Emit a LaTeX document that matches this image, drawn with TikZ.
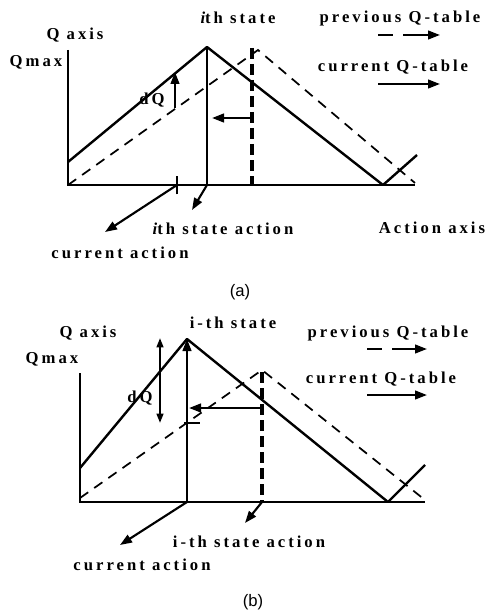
\documentclass[tikz,border=0pt]{standalone}
\usepackage{fontspec}
\setmainfont{Liberation Serif}
\newfontfamily\lblfont[LetterSpace=18]{Liberation Serif}
\newfontfamily\capfont{Liberation Sans}
\usetikzlibrary{arrows.meta,positioning}

\begin{document}
\begin{tikzpicture}[
x=0.75pt, y=-0.75pt,
lbl/.style={font=\lblfont\bfseries\fontsize{12.5}{14}\selectfont, inner sep=0pt},
captxt/.style={font=\capfont\fontsize{12.5}{14}\selectfont, inner sep=0pt},
axisline/.style={line width=2pt},
curq/.style={line width=1.8pt, line join=round},
prevq/.style={line width=1.3pt, dash pattern=on 7.5pt off 5.5pt},
actmark/.style={line width=3.5pt, dash pattern=on 8pt off 4pt},
arrow/.style={-{Triangle[length=9pt,width=6.5pt]}, line width=1.6pt},
dblarrow/.style={{Triangle[length=7pt,width=5pt]}-{Triangle[length=7pt,width=5pt]}, line width=1.6pt},
legdash/.style={arrow, dash pattern=on 11pt off 8pt on 40pt}
]
\useasboundingbox (0,0) rectangle (485,613);

% (a)
\coordinate (aTop) at (68,50);
\coordinate (aO) at (68,185);
\coordinate (aEnd) at (415,185);
\coordinate (aCurL) at (68,162);
\coordinate (aCurPk) at (207,47);
\coordinate (aCurR) at (383,185);
\coordinate (aCurX) at (417,155);
\coordinate (aPrvPk) at (258,50);
\coordinate (aPrvR) at (415,183);
\coordinate (aSt) at (207,185);
\coordinate (aMkTop) at (252,48);
\coordinate (aMk) at (252,185);
\coordinate (aShR) at (252,118);
\coordinate (aShL) at (212,118);
\coordinate (aDqLo) at (175,108);
\coordinate (aDqHi) at (175,72);
\coordinate (aAct) at (177,185);
\coordinate (aActEnd) at (105,232);
\coordinate (aStEnd) at (192,210);

\draw[axisline] (aTop) -- (aO) -- (aEnd);
\draw[curq] (aCurL) -- (aCurPk) -- (aCurR) -- (aCurX);
\draw[curq] (aCurPk) -- (aSt);
\draw[prevq] (aO) -- (aPrvPk) -- (aPrvR);
\draw[actmark] (aMkTop) -- (aMk);
\draw[arrow] (aShR) -- (aShL);
\draw[arrow] (aDqLo) -- (aDqHi);
\draw[line width=1.6pt] ([yshift=-7pt]aAct) -- ([yshift=7pt]aAct);
\draw[arrow] (aAct) -- (aActEnd);
\draw[arrow] (aSt) -- (aStEnd);

\node[lbl] (aQaxis) at (75,35) {Q axis};
\node[lbl] (aQmax) at (36,62) {Qmax};
\node[lbl] (aState) at (238,18) {\itshape i\upshape th state};
\node[lbl] (aPrev) at (400,18) {previous Q-table};
\node[lbl] (aCur) at (393,67) {current Q-table};
\node[lbl] (aDq) at (152,100) {dQ};
\node[lbl] (aStAct) at (223,229) {\itshape i\upshape th state action};
\node[lbl] (aCurAct) at (120,253) {current action};
\node[lbl] (aAxis) at (432,228) {Action axis};
\node[captxt] (aCap) at (240,292) {(a)};

\coordinate (aLegA) at (378,35);
\coordinate (aLegB) at (440,35);
\coordinate (aLegC) at (378,84);
\coordinate (aLegD) at (440,84);
\draw[legdash] (aLegA) -- (aLegB);
\draw[arrow] (aLegC) -- (aLegD);

% (b)
\coordinate (bTop) at (80,373);
\coordinate (bO) at (80,502);
\coordinate (bEnd) at (425,502);
\coordinate (bCurL) at (80,468);
\coordinate (bCurPk) at (187,339);
\coordinate (bCurR) at (388,502);
\coordinate (bCurX) at (425,465);
\coordinate (bPrvL) at (80,498);
\coordinate (bPrvPk) at (262,370);
\coordinate (bPrvR) at (425,500);
\coordinate (bAct) at (187,502);
\coordinate (bMkTop) at (262,372);
\coordinate (bMk) at (262,502);
\coordinate (bShR) at (262,408);
\coordinate (bShL) at (189,408);
\coordinate (bTick) at (192,423);
\coordinate (bDqHi) at (160,338);
\coordinate (bDqLo) at (160,423);
\coordinate (bActEnd) at (120,545);
\coordinate (bStEnd) at (245,523);

\draw[axisline] (bTop) -- (bO) -- (bEnd);
\draw[curq] (bCurL) -- (bCurPk) -- (bCurR) -- (bCurX);
\draw[prevq] (bPrvL) -- (bPrvPk) -- (bPrvR);
\draw[arrow] (bAct) -- (bCurPk);
\draw[actmark] (bMkTop) -- (bMk);
\draw[arrow] (bShR) -- (bShL);
\draw[line width=1.6pt] ([xshift=-6pt]bTick) -- ([xshift=6pt]bTick);
\draw[dblarrow] (bDqHi) -- (bDqLo);
\draw[arrow] (bAct) -- (bActEnd);
\draw[arrow] (bMk) -- (bStEnd);

\node[lbl] (bQaxis) at (88,333) {Q axis};
\node[lbl] (bQmax) at (52,359) {Qmax};
\node[lbl] (bState) at (233,323) {i-th state};
\node[lbl] (bPrev) at (388,333) {previous Q-table};
\node[lbl] (bCur) at (381,379) {current Q-table};
\node[lbl] (bDq) at (140,398) {dQ};
\node[lbl] (bStAct) at (249,542) {i-th state action};
\node[lbl] (bCurAct) at (142,565) {current action};
\node[captxt] (bCap) at (253,602) {(b)};

\coordinate (bLegA) at (367,349);
\coordinate (bLegB) at (427,349);
\coordinate (bLegC) at (367,395);
\coordinate (bLegD) at (427,395);
\draw[legdash] (bLegA) -- (bLegB);
\draw[arrow] (bLegC) -- (bLegD);
\end{tikzpicture}
\end{document}
